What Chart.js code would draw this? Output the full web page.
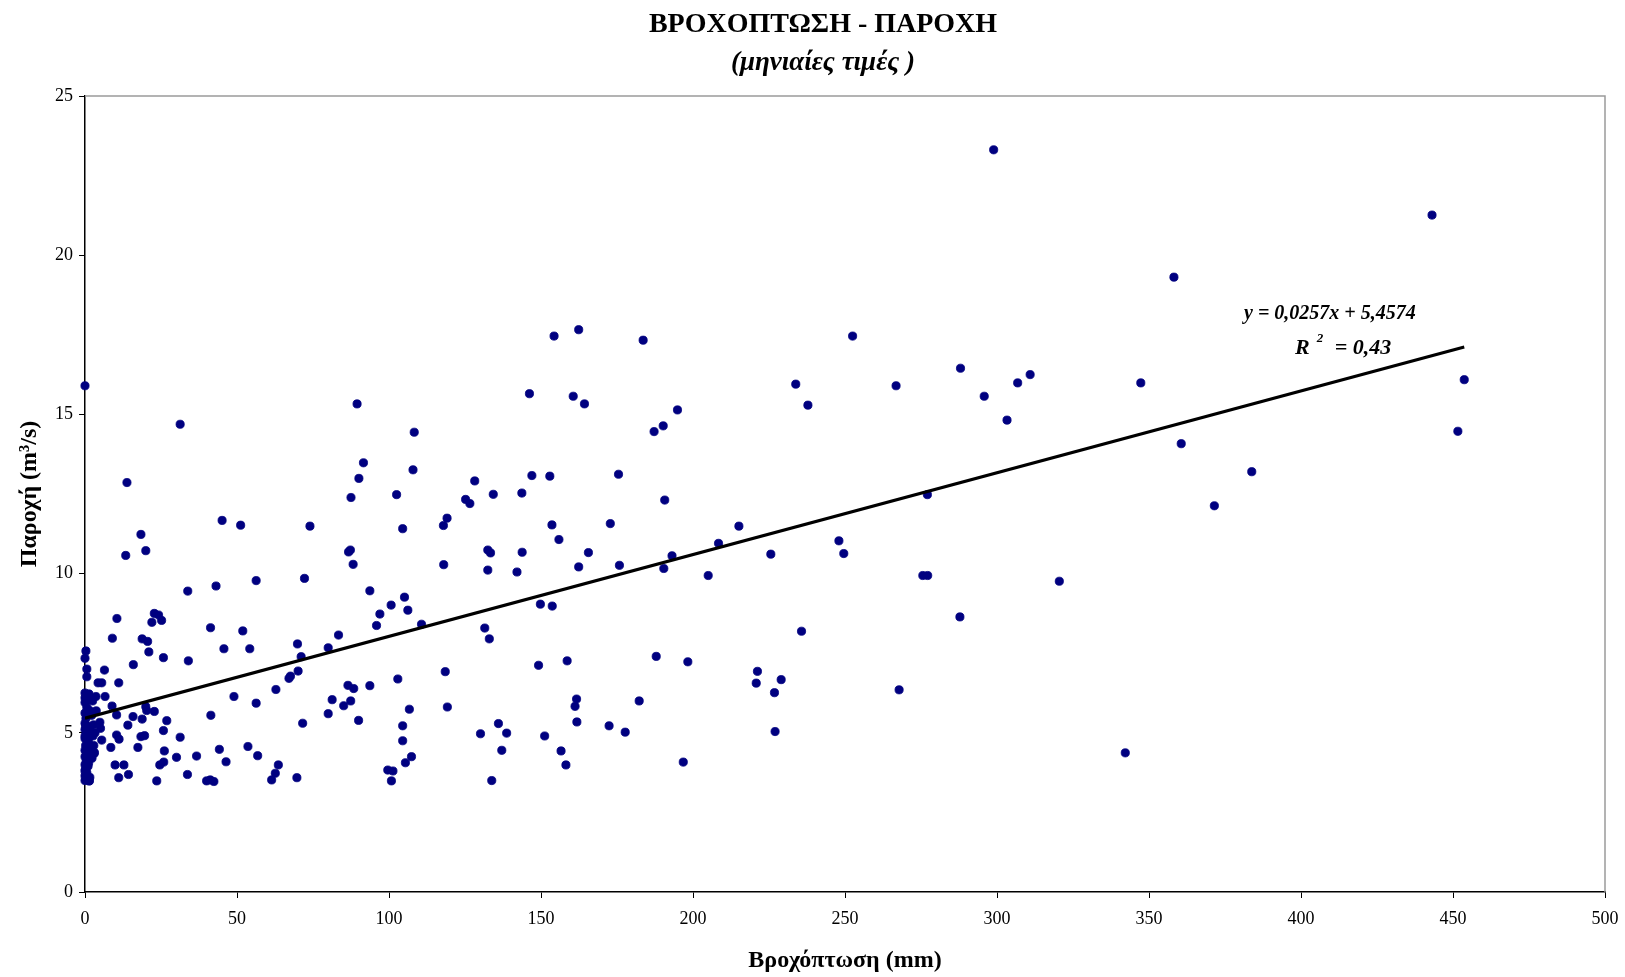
<!DOCTYPE html>
<html>
<head>
<meta charset="utf-8">
<script src="https://cdn.jsdelivr.net/npm/chart.js@4.4.1/dist/chart.umd.min.js"></script>
<style>
  html, body { margin: 0; padding: 0; background: #ffffff; }
  #wrap { width: 1625px; height: 977px; position: relative; }
</style>
</head>
<body>
<div id="wrap"><canvas id="chart"></canvas></div>
<script>
// Monthly rainfall (mm) and the matching monthly discharge (m³/s)
const rainfall = [
  // dry months, rainfall close to zero
  0, 0.4, 1.2, 0, 0.6, 0, 1.5, 0.3, 2.2, 0, 0.9, 1.8, 0, 0.5, 2.6, 0, 1.1, 0.2, 1.9, 0,
  0.7, 1.4, 0, 0.4, 2.3, 0, 1.0, 0.1, 0.6, 0, 1.6, 0.3, 1.4, 0, 2.8, 3.3, 2.9, 0.8, 1.7, 0,
  2.5, 0, 3.0, 0.2, 0, 1.2, 0.3, 0, 0.6, 0.6, 0,
  // 1 - 60 mm
  1.3, 3.6, 6.6, 4.3, 5.5, 11.1, 6.4, 8.9, 3.7, 10.4, 20.0, 20.3, 22.8, 41.4, 49.0, 56.3,
  15.8, 18.8, 26.9, 14.1, 4.9, 5.1, 25.8, 10.4, 11.2, 18.4, 19.6, 31.3, 5.5, 8.5, 17.4, 26.1,
  44.2, 53.6, 2.3, 3.1, 30.1, 36.7, 56.8, 9.9, 12.8, 24.6, 25.9, 46.4, 14.3, 11.1, 33.7, 23.6,
  40.0, 41.2, 42.4, 1.4,
  33.8, 43.1, 56.3, 10.5, 22.8, 24.2, 22.0, 25.2, 41.3, 51.9, 9.0, 18.8, 20.6, 21.0, 25.8, 34.0,
  45.7, 54.2, 15.9, 31.3, 13.8, 45.1, 51.2, 18.4, 13.4, 20.0,
  // 60 - 120 mm
  89.5, 108.3, 91.6, 90.1, 107.9, 87.5, 102.5, 74.0, 104.5, 86.7, 87.3, 88.2, 72.2, 93.7, 105.1, 100.7,
  106.2, 97.0, 95.9, 110.7, 83.4, 69.9, 80.0, 71.1, 70.1, 67.1, 67.6, 62.8, 86.5, 88.4, 93.7, 102.9,
  118.5, 81.3, 85.1, 87.4, 80.0, 90.0, 71.6, 106.7, 119.2, 104.5, 104.5, 107.4, 105.4, 99.6, 101.3, 100.8,
  63.6, 62.6, 61.4, 69.7, 118.0,
  // 120 - 200 mm
  154.3, 162.4, 183.6, 146.2, 160.6, 164.3, 194.9, 187.2, 190.2, 128.2, 147.0, 152.9, 175.5, 125.2, 126.6, 134.3,
  143.7, 190.7, 119.1, 117.9, 153.6, 155.9, 172.8, 132.5, 133.4, 143.8, 165.6, 193.1, 132.5, 142.1, 162.4, 175.8,
  190.4, 149.8, 153.7, 131.5, 133.0, 149.2, 158.6, 187.9, 198.3, 161.7, 161.2, 161.8, 136.0, 138.7, 130.1, 137.1,
  133.8, 151.2, 156.6, 158.2, 172.4, 177.7, 182.3, 196.8,
  // above 200 mm
  205.0, 208.4, 215.1, 225.6, 248.0, 249.6, 233.8, 237.8, 275.6, 277.2, 320.5, 287.8, 235.7, 221.2, 220.8, 229.0,
  226.8, 267.8, 227.0, 342.2, 298.9, 443.1, 358.2, 252.5, 288.0, 310.9, 306.8, 347.3, 266.8, 453.7, 295.8, 303.3,
  360.6, 451.6, 383.8, 371.5, 277.1
];

const discharge = [
  6.25, 6.05, 6.18, 5.95, 5.80, 5.62, 5.70, 5.45, 5.55, 5.30, 5.20, 5.05, 5.10, 4.95, 4.90, 4.82, 4.75, 4.60, 4.58, 4.45,
  4.40, 4.30, 4.25, 4.12, 4.20, 4.00, 3.95, 3.85, 3.75, 3.65, 3.60, 3.55, 3.49, 3.50, 5.25, 5.00, 4.60, 5.55, 6.05, 6.10,
  6.00, 4.90, 4.35, 5.20, 3.80, 4.05, 7.57, 7.34, 7.00, 6.76, 15.90,
  6.22, 6.14, 6.14, 6.57, 6.57, 6.57, 6.97, 5.84, 5.69, 5.56, 5.82, 5.70, 5.67, 5.55, 6.14, 5.93,
  5.51, 5.43, 5.38, 5.24, 5.33, 5.14, 5.07, 4.93, 4.80, 4.88, 4.91, 4.86, 4.77, 4.54, 4.54, 4.43,
  4.48, 4.57, 4.38, 4.38, 4.23, 4.27, 4.28, 3.99, 3.99, 3.99, 4.08, 4.09, 3.69, 3.59, 3.69, 3.49,
  3.49, 3.52, 3.47, 3.49,
  9.45, 9.61, 9.78, 8.59, 8.75, 8.70, 8.47, 8.53, 8.30, 8.20, 7.97, 7.95, 7.87, 7.54, 7.36, 7.26,
  7.64, 7.64, 7.14, 14.69, 12.86, 11.67, 11.52, 11.23, 10.57, 10.72,
  15.33, 14.44, 13.48, 12.99, 13.26, 12.39, 12.48, 11.49, 11.41, 10.68, 10.74, 10.29, 9.85, 9.46, 9.26, 9.01,
  8.85, 8.73, 8.37, 8.41, 8.07, 7.79, 7.67, 7.39, 6.94, 6.71, 6.78, 6.36, 6.49, 6.39, 6.48, 6.69,
  6.92, 6.04, 5.85, 6.00, 5.60, 5.39, 5.30, 5.74, 5.81, 5.22, 4.75, 4.25, 4.06, 3.83, 3.80, 3.49,
  3.99, 3.73, 3.52, 3.59, 10.28,
  17.46, 17.66, 17.33, 15.65, 15.57, 15.33, 15.14, 14.46, 14.64, 12.91, 13.08, 13.06, 13.12, 12.33, 12.20, 12.49,
  12.53, 12.31, 11.74, 11.51, 11.53, 11.07, 11.57, 10.74, 10.65, 10.67, 10.66, 10.56, 10.11, 10.05, 10.21, 10.26,
  10.16, 9.04, 8.98, 8.29, 7.95, 7.12, 7.26, 7.40, 7.23, 6.06, 5.83, 5.34, 5.29, 4.99, 4.97, 4.45,
  3.50, 4.90, 4.43, 3.99, 5.22, 5.02, 6.00, 4.08,
  9.94, 10.95, 11.49, 10.61, 11.03, 10.63, 15.95, 15.29, 9.94, 9.94, 9.76, 8.64, 8.19, 6.93, 6.56, 6.67,
  6.26, 6.35, 5.04, 4.37, 23.31, 21.26, 19.31, 17.46, 16.45, 16.25, 15.99, 15.99, 15.90, 16.09, 15.57, 14.82,
  14.08, 14.47, 13.20, 12.13, 12.48
];

// Linear trend: y = slope * x + intercept
const trendSlope = 0.0257;
const trendIntercept = 5.4574;
const trendEquation = 'y = 0,0257x + 5,4574';
const rSquared = '0,43';

const xTickValues = [0, 50, 100, 150, 200, 250, 300, 350, 400, 450, 500];
const yTickValues = [0, 5, 10, 15, 20, 25];

const serif = '"Liberation Serif", "DejaVu Serif", serif';

const points = rainfall.map((x, i) => ({ x: x, y: discharge[i] }));
const xEnd = Math.max(...rainfall);
const trendPoints = [
  { x: 0, y: trendIntercept },
  { x: xEnd, y: trendSlope * xEnd + trendIntercept }
];

// Gray frame on the top and right edges of the plot area
const frame = {
  id: 'frame',
  beforeDatasetsDraw(chart) {
    const { ctx, chartArea: a } = chart;
    ctx.save();
    ctx.strokeStyle = '#9a9a9a';
    ctx.lineWidth = 1.5;
    ctx.beginPath();
    ctx.moveTo(a.left, a.top);
    ctx.lineTo(a.right, a.top);
    ctx.lineTo(a.right, a.bottom);
    ctx.stroke();
    ctx.restore();
  }
};

// Regression equation and R² written beside the trend line
const equation = {
  id: 'equation',
  afterDatasetsDraw(chart) {
    const { ctx, chartArea: a } = chart;
    ctx.save();
    ctx.fillStyle = '#000000';
    ctx.textBaseline = 'middle';
    ctx.textAlign = 'left';
    ctx.font = 'italic bold 20px ' + serif;
    ctx.fillText(trendEquation, a.left + 1159, a.top + 218);
    const x0 = a.left + 1210;
    const y0 = a.top + 252;
    ctx.font = 'italic bold 22px ' + serif;
    ctx.fillText('R', x0, y0);
    const rw = ctx.measureText('R').width;
    ctx.font = 'italic bold 13px ' + serif;
    ctx.fillText('2', x0 + rw + 7, y0 - 9);
    ctx.font = 'italic bold 22px ' + serif;
    ctx.fillText('= ' + rSquared, x0 + rw + 25, y0);
    ctx.restore();
  }
};

new Chart(document.getElementById('chart'), {
  type: 'scatter',
  data: {
    datasets: [
      {
        type: 'line',
        data: trendPoints,
        borderColor: '#000000',
        borderWidth: 3.2,
        pointRadius: 0,
        fill: false,
        tension: 0
      },
      {
        data: points,
        backgroundColor: '#000080',
        borderColor: '#000080',
        borderWidth: 0.8,
        pointRadius: 4.1,
        clip: false
      }
    ]
  },
  options: {
    responsive: true,
    maintainAspectRatio: false,
    animation: false,
    events: [],
    // the wider left margin centres the heading block slightly right of the canvas middle
    layout: { padding: { left: 41, right: 20, top: 0, bottom: 0 } },
    plugins: {
      legend: { display: false },
      tooltip: { enabled: false },
      title: {
        display: true,
        text: 'ΒΡΟΧΟΠΤΩΣΗ - ΠΑΡΟΧΗ',
        color: '#000000',
        font: { family: serif, size: 28, weight: 'bold', lineHeight: 1.2 },
        padding: { top: 8, bottom: 0 }
      },
      subtitle: {
        display: true,
        text: '(μηνιαίες τιμές )',
        color: '#000000',
        font: { family: serif, size: 27, weight: 'bold', style: 'italic', lineHeight: 1.2 },
        padding: { top: 5, bottom: 17 }
      }
    },
    scales: {
      x: {
        type: 'linear',
        min: 0,
        max: 500,
        afterBuildTicks: s => { s.ticks = xTickValues.map(v => ({ value: v })); },
        afterFit: s => { s.height = 85; s.paddingLeft = 0; s.paddingRight = 0; },
        grid: { display: true, drawOnChartArea: false, drawTicks: true, tickLength: 6, color: '#000000', lineWidth: 1 },
        border: { display: true, color: '#000000', width: 1.5 },
        ticks: { color: '#000000', padding: 10, font: { family: serif, size: 18 } },
        title: {
          display: true,
          text: 'Βροχόπτωση (mm)',
          color: '#000000',
          font: { family: serif, size: 24, weight: 'bold', lineHeight: 1.2 },
          padding: { top: 0, bottom: 2 }
        }
      },
      y: {
        type: 'linear',
        min: 0,
        max: 25,
        afterBuildTicks: s => { s.ticks = yTickValues.map(v => ({ value: v })); },
        // axis box starts after the 41px left margin; chart area begins at x = 85
        afterFit: s => { s.width = 44; s.paddingTop = 0; s.paddingBottom = 0; },
        grid: { display: true, drawOnChartArea: false, drawTicks: true, tickLength: 6, color: '#000000', lineWidth: 1 },
        border: { display: true, color: '#000000', width: 1.5 },
        ticks: { color: '#000000', padding: 6, font: { family: serif, size: 18 } },
        title: {
          display: true,
          text: 'Παροχή (m³/s)',
          color: '#000000',
          font: { family: serif, size: 24, weight: 'bold', lineHeight: 1.2 },
          // negative offset pulls the rotated title into the left margin (centre at x ≈ 29)
          padding: { top: -26, bottom: 0 }
        }
      }
    }
  },
  plugins: [frame, equation]
});
</script>
</body>
</html>
